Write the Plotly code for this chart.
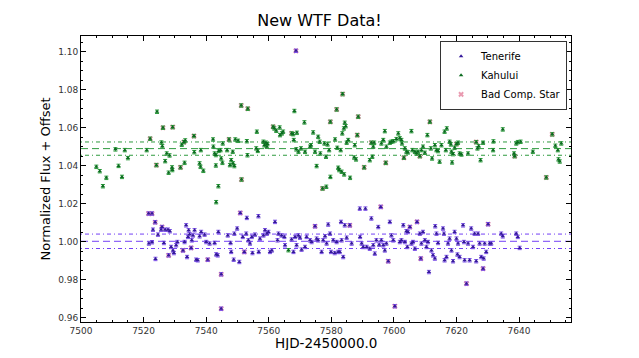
import plotly.graph_objects as go

# ---------------- data ----------------
ten_hjd = [7521.6, 7522.7, 7521.7, 7522.7, 7523.0, 7523.7, 7523.8, 7524.6, 7525.6, 7525.9,
           7526.5, 7526.9, 7527.8, 7528.0, 7528.4, 7528.8, 7529.4, 7529.7, 7530.4, 7530.8,
           7532.6, 7533.1, 7533.6, 7533.9, 7534.2, 7534.4, 7534.7, 7535.2, 7535.4, 7535.8,
           7536.3, 7536.8, 7537.3, 7537.9, 7538.4, 7539.5, 7540.0, 7540.5, 7541.1, 7542.7,
           7543.2, 7543.7, 7543.9, 7544.8, 7544.8, 7546.9, 7547.8, 7548.0, 7548.8, 7549.0,
           7549.9, 7550.6, 7550.9, 7551.7, 7552.2, 7552.8, 7553.0, 7553.5, 7554.0, 7554.6,
           7554.8, 7555.6, 7556.7, 7556.8, 7557.2, 7558.3, 7558.8, 7559.4, 7559.9, 7560.4,
           7561.0, 7562.0, 7562.8, 7563.1, 7564.1, 7565.0, 7565.2, 7567.3, 7567.9, 7568.4,
           7568.9, 7569.5, 7570.0, 7570.5, 7571.6, 7572.1, 7573.2, 7573.7, 7574.8, 7575.3,
           7575.8, 7576.9, 7577.4, 7578.0, 7578.5, 7579.0, 7579.6, 7579.9, 7580.6, 7581.1,
           7581.7, 7582.2, 7582.7, 7583.1, 7583.3, 7583.8, 7584.3, 7584.9, 7585.9, 7586.5,
           7589.1, 7589.2, 7589.7, 7590.2, 7590.9, 7591.3, 7592.3, 7592.8, 7593.4, 7593.9,
           7594.4, 7595.0, 7595.3, 7595.8, 7596.0, 7596.6, 7597.1, 7597.6, 7598.2, 7598.7,
           7599.2, 7599.8, 7600.3, 7601.9, 7602.4, 7603.0, 7603.5, 7604.0, 7604.3, 7604.5,
           7605.1, 7605.6, 7606.1, 7606.7, 7607.4, 7608.3, 7608.6, 7608.8, 7609.3, 7609.9,
           7610.4, 7610.9, 7611.2, 7612.0, 7612.5, 7613.1, 7613.2, 7613.6, 7614.1, 7615.7,
           7616.0, 7616.2, 7616.8, 7617.3, 7617.8, 7618.4, 7618.9, 7619.4, 7620.0, 7620.3,
           7620.5, 7621.0, 7622.1, 7622.4, 7622.6, 7623.2, 7623.7, 7624.2, 7624.7, 7625.3,
           7625.8, 7626.3, 7626.9, 7627.4, 7627.9, 7628.5, 7628.7, 7629.0, 7629.5, 7630.1,
           7630.6, 7631.1, 7634.3, 7634.8, 7639.1, 7639.6, 7640.2, 7568.7]
ten_flux = [1.0148, 1.0148, 0.9990, 0.9997, 1.0063, 1.0102, 0.9909, 1.0037, 1.0063, 1.0077,
            0.9993, 1.0063, 1.0063, 0.9928, 1.0055, 0.9972, 0.9954, 0.9940, 0.9981, 0.9998,
            0.9954, 0.9998, 1.0086, 0.9919, 1.0025, 1.0060, 1.0039, 0.9967, 1.0007, 1.0033,
            1.0060, 0.9905, 0.9902, 1.0028, 1.0051, 1.0037, 0.9998, 0.9905, 0.9990, 0.9993,
            0.9933, 0.9928, 1.0051, 0.9828, 0.9647, 1.0033, 0.9993, 0.9946, 0.9905, 1.0042,
            1.0069, 0.9893, 1.0151, 1.0025, 0.9946, 1.0042, 1.0125, 1.0007, 0.9990, 1.0025,
            0.9940, 1.0037, 1.0134, 0.9946, 1.0016, 1.0033, 1.0060, 1.0042, 1.0051, 0.9946,
            0.9954, 1.0104, 1.0007, 1.0042, 1.0033, 1.0025, 0.9981, 1.0011, 0.9946, 1.0025,
            0.9981, 1.0033, 1.0021, 0.9958, 0.9972, 1.0025, 1.0007, 0.9998, 1.0081, 1.0016,
            1.0007, 0.9946, 1.0007, 1.0028, 0.9990, 1.0090, 1.0042, 0.9946, 1.0007, 0.9940,
            0.9998, 0.9946, 0.9946, 1.0104, 1.0007, 0.9919, 1.0086, 1.0021, 1.0086, 0.9990,
            1.0174, 1.0025, 0.9990, 0.9972, 1.0174, 0.9972, 0.9963, 1.0122, 0.9981, 0.9937,
            1.0007, 1.0077, 0.9984, 1.0183, 1.0007, 0.9981, 0.9954, 0.9990, 0.9897, 1.0104,
            1.0033, 1.0007, 0.9660, 0.9998, 1.0007, 1.0086, 0.9998, 1.0055, 0.9972, 1.0051,
            1.0077, 0.9990, 0.9998, 0.9963, 1.0104, 1.0042, 0.9911, 0.9990, 1.0051, 1.0007,
            0.9972, 0.9998, 0.9840, 0.9954, 0.9928, 0.9911, 1.0081, 1.0042, 0.9993, 1.0069,
            1.0042, 0.9902, 0.9919, 0.9990, 1.0016, 0.9954, 0.9897, 1.0051, 1.0016, 0.9932,
            0.9990, 0.9919, 1.0086, 0.9998, 0.9902, 0.9779, 0.9990, 0.9902, 1.0069, 0.9972,
            1.0042, 0.9897, 1.0042, 0.9990, 0.9919, 0.9858, 0.9911, 0.9990, 0.9946, 1.0092,
            0.9990, 0.9990, 1.0042, 1.0028, 1.0042, 1.0025, 0.9967, 1.1005]
ten_bad = [1, 1, 0, 0, 0, 1, 0, 0, 0, 1,
           0, 0, 0, 1, 0, 0, 0, 0, 0, 0,
           1, 0, 0, 0, 0, 0, 0, 1, 0, 0,
           0, 0, 0, 0, 0, 0, 0, 1, 0, 0,
           0, 0, 0, 1, 1, 0, 0, 0, 0, 0,
           0, 0, 1, 0, 1, 0, 0, 0, 0, 0,
           0, 0, 0, 0, 0, 0, 0, 0, 0, 0,
           0, 0, 0, 0, 0, 0, 0, 0, 0, 0,
           0, 0, 0, 0, 0, 0, 0, 0, 1, 0,
           0, 0, 0, 0, 0, 0, 0, 0, 0, 0,
           0, 0, 0, 0, 0, 0, 0, 0, 1, 0,
           0, 0, 0, 0, 0, 0, 0, 0, 0, 0,
           0, 0, 0, 1, 0, 0, 0, 0, 1, 0,
           0, 0, 1, 0, 0, 0, 0, 0, 0, 0,
           1, 0, 0, 0, 1, 0, 1, 0, 0, 0,
           0, 0, 0, 0, 0, 0, 0, 0, 0, 0,
           0, 0, 0, 0, 0, 0, 0, 0, 0, 0,
           0, 0, 0, 0, 0, 1, 0, 0, 0, 0,
           0, 0, 0, 0, 0, 1, 0, 0, 0, 1,
           0, 0, 0, 0, 0, 0, 0, 1]

kah_hjd = [7504.9, 7506.0, 7507.0, 7508.1, 7511.0, 7512.0, 7513.1, 7514.0, 7515.0, 7521.0,
           7522.1, 7524.1, 7524.3, 7525.7, 7526.0, 7526.2, 7526.9, 7527.4, 7528.0, 7528.3,
           7529.1, 7529.2, 7529.3, 7531.8, 7532.2, 7532.9, 7533.3, 7533.1, 7536.1, 7536.2,
           7537.9, 7538.2, 7539.1, 7538.3, 7542.2, 7542.3, 7542.7, 7543.1, 7543.1, 7543.2,
           7543.9, 7544.0, 7544.6, 7544.8, 7545.2, 7545.3, 7546.7, 7547.3, 7547.6, 7548.0,
           7548.5, 7548.6, 7549.3, 7549.0, 7550.2, 7551.2, 7551.3, 7553.0, 7553.2, 7553.3,
           7556.2, 7556.0, 7556.5, 7558.3, 7558.6, 7559.1, 7559.4, 7559.6, 7561.4, 7561.8,
           7562.4, 7563.5, 7563.6, 7564.2, 7564.6, 7567.3, 7567.8, 7568.2, 7568.0, 7568.8,
           7569.0, 7569.5, 7570.3, 7571.4, 7571.6, 7573.2, 7573.5, 7574.2, 7574.8, 7575.3,
           7575.8, 7576.3, 7576.5, 7577.2, 7577.8, 7578.3, 7578.4, 7578.8, 7579.3, 7579.7,
           7579.7, 7581.2, 7581.7, 7581.9, 7582.2, 7582.5, 7583.3, 7583.5, 7583.6, 7584.0,
           7584.3, 7584.6, 7583.0, 7584.1, 7586.0, 7584.9, 7585.4, 7587.3, 7587.9, 7587.5,
           7588.3, 7588.6, 7590.5, 7592.3, 7592.8, 7593.1, 7593.4, 7593.7, 7596.0, 7596.6,
           7597.1, 7597.4, 7597.6, 7598.7, 7599.2, 7599.8, 7600.8, 7601.4, 7601.9, 7602.4,
           7602.6, 7603.2, 7603.5, 7604.0, 7604.5, 7605.6, 7605.9, 7606.7, 7607.2, 7607.7,
           7608.3, 7608.8, 7609.3, 7609.9, 7610.7, 7611.5, 7611.8, 7612.2, 7613.1, 7613.6,
           7614.1, 7614.6, 7615.2, 7616.2, 7616.6, 7616.9, 7617.8, 7618.2, 7618.4, 7618.6,
           7618.9, 7619.4, 7620.0, 7620.5, 7621.0, 7621.6, 7623.7, 7626.3, 7626.7, 7627.1,
           7627.7, 7628.5, 7631.7, 7631.8, 7634.8, 7638.4, 7638.6, 7639.1, 7639.6, 7640.5,
           7644.4, 7648.7, 7650.6, 7651.6, 7652.4, 7652.6, 7653.0, 7653.5, 7566.3]
kah_flux = [1.0394, 1.0371, 1.0292, 1.0336, 1.0486, 1.0399, 1.0341, 1.0482, 1.0440, 1.0482,
            1.0542, 1.0403, 1.0684, 1.0522, 1.0503, 1.0600, 1.0424, 1.0464, 1.0363, 1.0454,
            1.0391, 1.0377, 1.0603, 1.0391, 1.0510, 1.0524, 1.0533, 1.0415, 1.0556, 1.0471,
            1.0412, 1.0394, 1.0373, 1.0482, 1.0538, 1.0500, 1.0464, 1.0456, 1.0401, 1.0208,
            1.0292, 1.0478, 1.0482, 1.0438, 1.0415, 1.0517, 1.0482, 1.0538, 1.0403, 1.0429,
            1.0473, 1.0412, 1.0538, 1.0398, 1.0531, 1.0717, 1.0327, 1.0529, 1.0455, 1.0700,
            1.0579, 1.0491, 1.0478, 1.0526, 1.0508, 1.0521, 1.0500, 1.0514, 1.0605, 1.0596,
            1.0584, 1.0601, 1.0561, 1.0570, 1.0579, 1.0570, 1.0566, 1.0688, 1.0535, 1.0486,
            1.0573, 1.0473, 1.0491, 1.0628, 1.0473, 1.0500, 1.0508, 1.0575, 1.0473, 1.0398,
            1.0552, 1.0526, 1.0464, 1.0280, 1.0517, 1.0447, 1.0289, 1.0512, 1.0482, 1.0631,
            1.0341, 1.0538, 1.0696, 1.0494, 1.0389, 1.0377, 1.0368, 1.0570, 1.0777, 1.0596,
            1.0626, 1.0608, 1.0482, 1.0354, 1.0336, 1.0521, 1.0535, 1.0443, 1.0433, 1.0508,
            1.0561, 1.0658, 1.0391, 1.0429, 1.0521, 1.0447, 1.0500, 1.0521, 1.0517, 1.0535,
            1.0582, 1.0415, 1.0500, 1.0521, 1.0526, 1.0529, 1.0540, 1.0570, 1.0544, 1.0535,
            1.0517, 1.0442, 1.0491, 1.0473, 1.0470, 1.0582, 1.0482, 1.0473, 1.0464, 1.0473,
            1.0450, 1.0482, 1.0500, 1.0468, 1.0561, 1.0631, 1.0491, 1.0438, 1.0508, 1.0482,
            1.0477, 1.0421, 1.0508, 1.0579, 1.0482, 1.0596, 1.0526, 1.0512, 1.0473, 1.0417,
            1.0461, 1.0494, 1.0514, 1.0521, 1.0464, 1.0459, 1.0464, 1.0524, 1.0491, 1.0503,
            1.0429, 1.0521, 1.0482, 1.0528, 1.0591, 1.0464, 1.0450, 1.0517, 1.0524, 1.0526,
            1.0473, 1.0338, 1.0565, 1.0505, 1.0482, 1.0433, 1.0422, 1.0517, 0.9955]
kah_bad = [0, 0, 0, 0, 0, 0, 0, 0, 0, 0,
           1, 1, 0, 0, 0, 1, 0, 0, 0, 0,
           0, 0, 1, 1, 0, 1, 0, 0, 1, 0,
           0, 0, 0, 0, 0, 0, 0, 0, 0, 0,
           0, 0, 0, 0, 0, 0, 0, 1, 0, 0,
           0, 0, 0, 0, 0, 1, 1, 0, 0, 1,
           0, 0, 0, 0, 0, 0, 0, 0, 1, 0,
           0, 0, 0, 0, 0, 1, 0, 0, 0, 0,
           0, 0, 0, 0, 0, 0, 0, 0, 0, 0,
           0, 0, 0, 1, 0, 0, 0, 0, 0, 1,
           0, 0, 1, 0, 0, 0, 0, 0, 1, 0,
           0, 0, 0, 0, 0, 0, 0, 0, 0, 0,
           1, 1, 1, 0, 1, 0, 0, 0, 0, 0,
           0, 1, 0, 0, 0, 0, 0, 0, 0, 0,
           0, 1, 0, 0, 0, 0, 0, 0, 0, 0,
           1, 0, 0, 0, 0, 1, 0, 0, 0, 0,
           0, 0, 0, 0, 0, 0, 0, 0, 0, 0,
           0, 0, 1, 0, 0, 0, 0, 1, 0, 0,
           0, 0, 0, 0, 0, 0, 1, 0, 0, 0,
           0, 1, 1, 0, 0, 0, 0, 0, 0]

flux_err = 0.0009
ten_mean, ten_std = 1.0002, 0.0038
kah_mean, kah_std = 1.0490, 0.0035

x_ticks = [7500, 7520, 7540, 7560, 7580, 7600, 7620, 7640]
y_ticks = [0.96, 0.98, 1.00, 1.02, 1.04, 1.06, 1.08, 1.10]
x_label = "HJD-2450000.0"
y_label = "Normalized Flux + Offset"

# ---------------- figure ----------------
TEN_C = "#34189a"
TEN_E = "#7a4fe6"
KAH_C = "#0b6b1f"
KAH_E = "#2a9a3a"
BAD_C = "rgba(226,120,150,0.75)"
TEN_L = "#7340f5"
KAH_L = "#2f9a3f"

fig = go.Figure()

bad_x = [x for x, b in zip(ten_hjd, ten_bad) if b] + [x for x, b in zip(kah_hjd, kah_bad) if b]
bad_y = [y for y, b in zip(ten_flux, ten_bad) if b] + [y for y, b in zip(kah_flux, kah_bad) if b]

def hline(y, color, dash):
    fig.add_shape(type="line", xref="x domain", yref="y", x0=0, x1=1, y0=y, y1=y,
                  line=dict(color=color, width=1, dash=dash), layer="below")

hline(ten_mean, TEN_L, "7px,4px")
hline(ten_mean + ten_std, TEN_L, "1px,3px,4px,3px")
hline(ten_mean - ten_std, TEN_L, "1px,3px,4px,3px")
hline(kah_mean, KAH_L, "7px,4px")
hline(kah_mean + kah_std, KAH_L, "1px,3px,4px,3px")
hline(kah_mean - kah_std, KAH_L, "1px,3px,4px,3px")

fig.add_trace(go.Scatter(
    x=bad_x, y=bad_y, mode="markers", name="Bad Comp. Star", legendrank=3,
    marker=dict(symbol="x", size=5, color=BAD_C, line=dict(width=0)),
))
fig.add_trace(go.Scatter(
    x=ten_hjd, y=ten_flux, mode="markers", name="Tenerife", legendrank=1,
    marker=dict(symbol="triangle-up", size=4, color=TEN_C),
    error_y=dict(type="constant", value=flux_err, color=TEN_E, thickness=1, width=2),
))
fig.add_trace(go.Scatter(
    x=kah_hjd, y=kah_flux, mode="markers", name="Kahului", legendrank=2,
    marker=dict(symbol="triangle-up", size=4, color=KAH_C),
    error_y=dict(type="constant", value=flux_err, color=KAH_E, thickness=1, width=2),
))

axis_common = dict(
    showline=True, linecolor="black", linewidth=1, mirror="ticks",
    ticks="inside", ticklen=5, tickcolor="black", showgrid=False, zeroline=False,
    automargin=False,
    tickfont=dict(family="DejaVu Sans", size=9, color="#333"),
)

fig.update_xaxes(
    range=[7500, 7656.6], tickvals=x_ticks, ticktext=[str(v) for v in x_ticks],
    minor=dict(ticks="inside", ticklen=2, dtick=5, tickcolor="black"),
    **axis_common,
)
fig.update_yaxes(
    range=[0.9577, 1.1083], tickvals=y_ticks, ticktext=[f"{v:.2f}" for v in y_ticks],
    minor=dict(ticks="inside", ticklen=2, dtick=0.005, tickcolor="black"),
    title=dict(text=y_label, font=dict(family="DejaVu Sans", size=13, color="black"), standoff=4),
    **axis_common,
)

# x-axis title placed just below the tick labels (it may extend into the margin)
fig.add_annotation(text=x_label, xref="paper", yref="paper", x=0.5, y=-0.075,
                   xanchor="center", yanchor="middle", showarrow=False,
                   font=dict(family="DejaVu Sans", size=13.5, color="black"))

# page body has an 8px margin, so the figure is sized/offset to fit the 639x358 window
fig.update_layout(
    width=623, height=342,
    margin=dict(l=73, r=60, t=28, b=28),
    paper_bgcolor="white", plot_bgcolor="white",
    title=dict(text="New WTF Data!", x=0.5, xanchor="center", y=0.965, yanchor="middle",
               font=dict(family="DejaVu Sans", size=16, color="black")),
    legend=dict(x=0.992, y=0.983, xanchor="right", yanchor="top",
                bordercolor="#333", borderwidth=1, bgcolor="white",
                font=dict(family="DejaVu Sans", size=10, color="black"),
                tracegroupgap=0, itemwidth=30),
    showlegend=True,
)

fig.write_html("out.html")
